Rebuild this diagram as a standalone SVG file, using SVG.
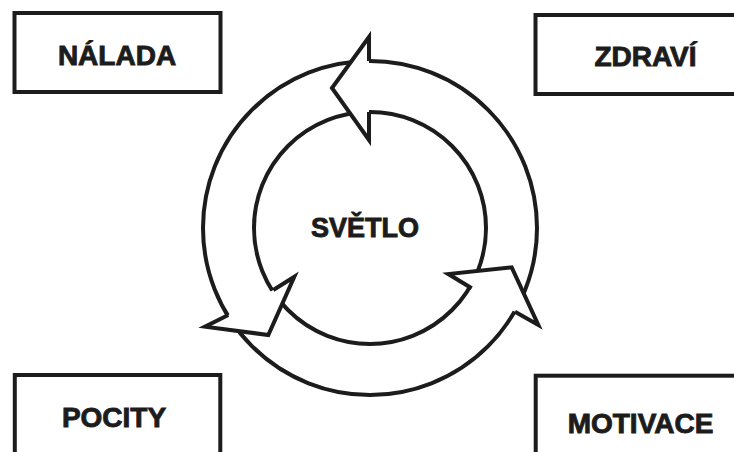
<svg xmlns="http://www.w3.org/2000/svg" width="734" height="452" viewBox="0 0 734 452">
  <style>
    .box { fill: #ffffff; stroke: #1c1c1c; stroke-width: 4; }
    .ring { fill: none; stroke: #1c1c1c; stroke-width: 4; }
    .head { fill: #ffffff; stroke: #1c1c1c; stroke-width: 4; stroke-linejoin: miter; stroke-miterlimit: 10; }
    .lbl { font-family: "Liberation Sans", Arial, sans-serif; font-weight: bold; font-size: 28px; fill: #1c1c1c; stroke: #1c1c1c; stroke-width: 0.9; text-anchor: middle; }
  </style>
  <rect width="734" height="452" fill="#ffffff"/>

  <g id="nalada">
    <rect class="box" x="14.5" y="13" width="206" height="79"/>
    <text class="lbl" x="117" y="65">NÁLADA</text>
  </g>
  <g id="zdravi">
    <rect class="box" x="535.5" y="15" width="230" height="79"/>
    <text class="lbl" x="645.5" y="66">ZDRAVÍ</text>
  </g>
  <g id="pocity">
    <rect class="box" x="14.8" y="375" width="205.5" height="100"/>
    <text class="lbl" x="114" y="427">POCITY</text>
  </g>
  <g id="motivace">
    <rect class="box" x="535.7" y="375.7" width="230" height="100"/>
    <text class="lbl" x="640.5" y="433">MOTIVACE</text>
  </g>

  <g id="svetlo">
    <circle class="ring" cx="370" cy="228" r="167"/>
    <circle class="ring" cx="370" cy="228" r="116"/>
    <text class="lbl" x="365" y="237" style="font-size:27px">SVĚTLO</text>
  </g>

  <g id="connectors">
    <path class="head" d="M369,61 L369,37 L332,88 L369,140 L369,112"/>
    <path class="head" d="M228.3,315 L205,326.7 L268.3,335 L294.3,276.7 L273.3,290"/>
    <path class="head" d="M515,311.7 L538.3,325 L511.7,267.3 L448.3,274 L471.7,288.3"/>
  </g>
</svg>
